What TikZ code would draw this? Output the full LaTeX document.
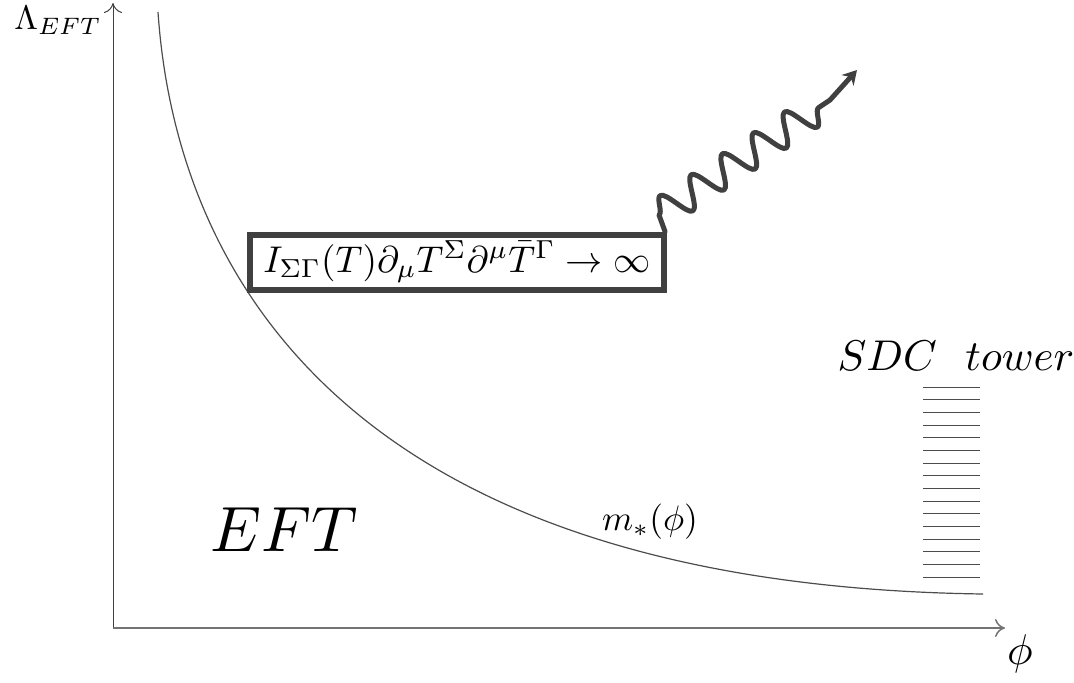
\documentclass[tikz,border=0pt]{standalone}
\usepackage{graphicx}
\usepackage{tikz}
\usetikzlibrary{arrows.meta,decorations.pathmorphing}

\begin{document}
\begin{tikzpicture}[x=0.5pt,y=0.5pt,
  axis/.style={draw=black!75,line width=0.5pt,-{To[length=5pt,width=9pt]}},
  rung/.style={draw=black!70,line width=0.5pt}]
\useasboundingbox (0,0) rectangle (1074,682);
\coordinate (origin) at (113,54);
\coordinate (ytop) at (113,679);
\coordinate (xend) at (1005,54);
\draw [axis] (origin) -- (ytop);
\draw [axis,draw=black!55,line width=0.75pt] (origin) -- (xend);
\node [scale=1.7] (lambda) at (58,662) {$\Lambda_{EFT}$};
\node [scale=2.15] (phi) at (1020,28) {$\phi$};
% the curve
\coordinate (ctop) at (158,670);
\coordinate (cend) at (983,88);
\draw [black!70,line width=0.6pt] (ctop) .. controls (175,420) and (335,97) .. (cend);
\node [scale=1.77] (mstar) at (650,160) {$m_*(\phi)$};
\node [scale=3.2] (eft) at (284,152) {$EFT$};
% tower
\node [scale=2.15] (sdc) at (956,326) {$SDC\ \ tower$};
\foreach \i in {0,...,15}
  \draw [rung] (923,295-12.67*\i) -- (980,295-12.67*\i);
\node [draw=black!75,line width=3pt,minimum width=207pt,minimum height=27.5pt,inner sep=0pt]
  (kin) at (457,420) {\scalebox{1.86}{$I_{\Sigma\Gamma}(T)\partial_\mu T^\Sigma\partial^\mu\bar{T}^\Gamma\to\infty$}\hspace{6pt}};
\coordinate (wstart) at ([xshift=-1pt]kin.north east);
\coordinate (wa) at (659,467);
\coordinate (wb) at (830,582);
\coordinate (wend) at (857,612);
\draw [black!75,line width=2.5pt,line cap=round,line join=round,-{Stealth[length=7pt,width=8pt]}]
  (wstart) -- (wa)
  decorate [decoration={snake,amplitude=7.75pt,segment length=18.75pt}] {-- (wb)}
  -- (wend);
\end{tikzpicture}
\end{document}
